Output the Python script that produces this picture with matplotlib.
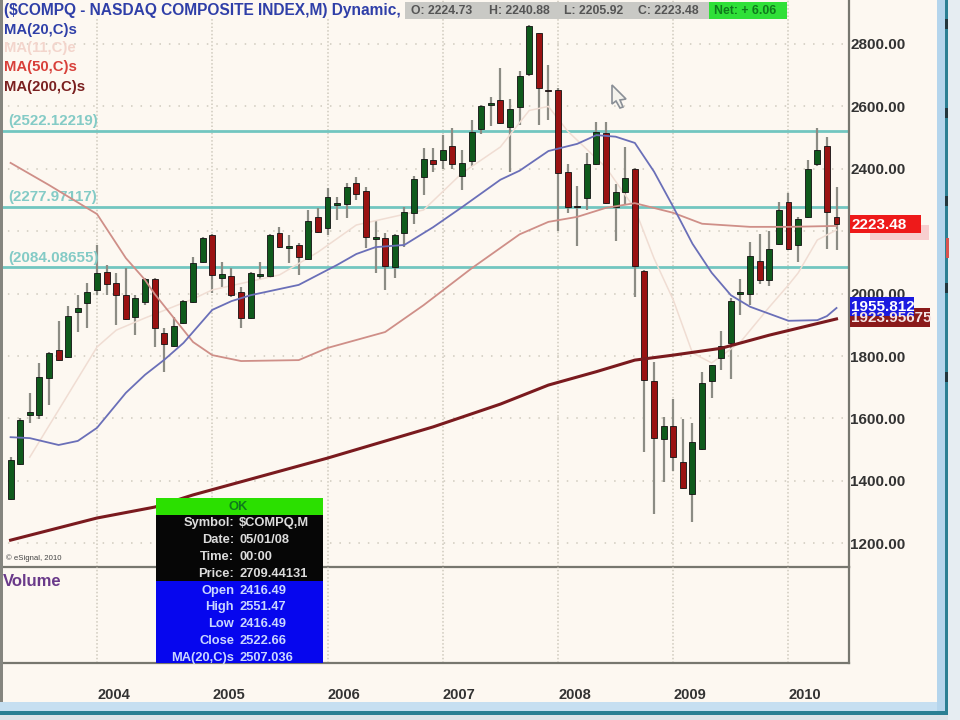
import matplotlib
matplotlib.use("Agg")
import matplotlib.pyplot as plt
from matplotlib.patches import Rectangle, Polygon

plt.rcParams['font.family'] = ['Liberation Sans', 'DejaVu Sans']

BG = '#fdf8f1'
GREEN = '#0f5a1c'
RED = '#9a1212'
WICK = '#8c8c84'
CYAN = '#72c6c0'

# monthly candles
opens = [1342, 1454, 1611, 1611, 1730, 1819, 1797, 1941, 1970, 2012, 2069, 2034, 1996, 1925, 1973, 2047, 1874, 1832,
         1906, 1973, 2101, 2188, 2050, 2056, 2005, 1922, 2057, 2056, 2194, 2146, 2156, 2111, 2246, 2210, 2283, 2287,
         2354, 2329, 2174, 2178, 2085, 2194, 2258, 2374, 2429, 2429, 2474, 2378, 2426, 2527, 2604, 2619, 2535, 2597,
         2703, 2834, 2653, 2654, 2391, 2282, 2306, 2417, 2514, 2277, 2325, 2401, 2073, 1719, 1535, 1575, 1462, 1358,
         1503, 1719, 1794, 1841, 1998, 2000, 2106, 2043, 2160, 2293, 2156, 2246, 2414, 2474, 2246]
highs = [1476, 1600, 1681, 1778, 1812, 1912, 1960, 1996, 2034, 2156, 2092, 2066, 2082, 1995, 2050, 2050, 1890, 1925,
         1980, 2117, 2181, 2190, 2101, 2082, 2021, 2070, 2101, 2192, 2213, 2188, 2162, 2268, 2274, 2338, 2310, 2354,
         2374, 2342, 2233, 2194, 2190, 2278, 2377, 2467, 2467, 2508, 2530, 2461, 2558, 2605, 2630, 2723, 2625, 2713,
         2860, 2836, 2733, 2658, 2417, 2344, 2450, 2550, 2550, 2350, 2469, 2403, 2075, 1782, 1604, 1661, 1598, 1585,
         1749, 1772, 1879, 1985, 2048, 2165, 2192, 2201, 2294, 2322, 2245, 2429, 2530, 2501, 2341]
lows = [1340, 1450, 1585, 1598, 1643, 1785, 1795, 1877, 1890, 1996, 1996, 1899, 1917, 1867, 1963, 1829, 1749, 1830,
        1903, 1970, 2098, 2002, 2021, 1990, 1890, 1920, 2044, 2050, 2145, 2098, 2060, 2108, 2195, 2188, 2236, 2242,
        2300, 2146, 2066, 2012, 2050, 2149, 2223, 2316, 2391, 2398, 2398, 2331, 2408, 2511, 2536, 2543, 2391, 2540,
        2698, 2540, 2556, 2201, 2259, 2154, 2268, 2413, 2287, 2170, 2287, 1990, 1493, 1295, 1397, 1431, 1374, 1267,
        1498, 1666, 1756, 1727, 1932, 1965, 2031, 2025, 2156, 2141, 2100, 2242, 2408, 2143, 2140]
closes = [1467, 1595, 1621, 1733, 1810, 1787, 1928, 1954, 2005, 2066, 2031, 1996, 1919, 1986, 2047, 1890, 1838, 1896,
          1976, 2098, 2178, 2060, 2063, 1996, 1922, 2066, 2063, 2188, 2149, 2154, 2117, 2233, 2197, 2310, 2291, 2342,
          2319, 2181, 2182, 2089, 2188, 2262, 2367, 2431, 2416, 2461, 2416, 2419, 2518, 2601, 2611, 2546, 2593, 2697,
          2859, 2660, 2648, 2388, 2277, 2278, 2414, 2519, 2291, 2325, 2369, 2088, 1722, 1536, 1575, 1475, 1376, 1525,
          1715, 1772, 1832, 1977, 2006, 2121, 2043, 2144, 2268, 2144, 2238, 2398, 2461, 2262, 2223]

# moving averages, read at a handful of months
ma20_x = [0, 2, 5, 7, 9, 12, 14, 16, 18, 21, 23, 25, 30, 34, 36, 38, 41, 44, 47, 51, 53, 56, 59, 61, 63, 65, 67, 69,
          71, 73, 75, 77, 81, 84, 85, 86]
ma20_y = [1540, 1537, 1515, 1528, 1570, 1682, 1740, 1788, 1842, 1948, 1976, 1995, 2028, 2092, 2127, 2149, 2156, 2213,
          2277, 2365, 2394, 2457, 2480, 2508, 2503, 2483, 2391, 2278, 2160, 2067, 1995, 1958, 1913, 1915, 1928, 1954]
ma11_x = [2, 5, 9, 11, 14, 19, 21, 28, 32, 36, 43, 47, 51, 54, 56, 58, 62, 65, 67, 69, 71, 73, 76, 79, 81, 82, 84, 86]
ma11_y = [1476, 1627, 1829, 1883, 1922, 1983, 2012, 2060, 2133, 2220, 2268, 2386, 2470, 2587, 2600, 2521, 2404, 2272,
          2113, 1980, 1810, 1778, 1845, 1957, 2028, 2066, 2172, 2204]
ma50_x = [0, 4, 9, 12, 14, 15, 17, 19, 21, 24, 30, 33, 39, 43, 48, 53, 56, 59, 62, 65, 69, 72, 77, 81, 86]
ma50_y = [2419, 2348, 2255, 2114, 2044, 1999, 1922, 1845, 1803, 1784, 1787, 1826, 1877, 1963, 2081, 2190, 2230, 2246,
          2275, 2290, 2259, 2224, 2214, 2214, 2217]
ma200_x = [0, 9, 15, 19, 33, 44, 51, 56, 61, 65, 69, 74, 79, 86]
ma200_y = [1210, 1281, 1316, 1355, 1473, 1573, 1646, 1707, 1750, 1787, 1803, 1825, 1867, 1919]

levels = [2522.12219, 2277.97117, 2084.08655]
price_ticks = [1200, 1400, 1600, 1800, 2000, 2200, 2400, 2600, 2800]
price_labels = ['1200.00', '1400.00', '1600.00', '1800.00', '2000.00', '', '2400.00', '2600.00', '2800.00']
year_ticks = [9, 21, 33, 45, 57, 69, 81]
year_labels = ['2004', '2005', '2006', '2007', '2008', '2009', '2010']
legend_names = ['MA(20,C)s', 'MA(11,C)e', 'MA(50,C)s', 'MA(200,C)s']
legend_colors = ['#2f3fa8', '#f3d5cc', '#d8403a', '#7a2020']
tip_black = [('Symbol:', '$COMPQ,M'), ('Date:', '05/01/08'), ('Time:', '00:00'), ('Price:', '2709.44131')]
tip_blue = [('Open', '2416.49'), ('High', '2551.47'), ('Low', '2416.49'), ('Close', '2522.66'),
            ('MA(20,C)s', '2507.036')]

W, H = 960, 720
fig = plt.figure(figsize=(9.6, 7.2), dpi=100, facecolor=BG)


def px_axes(x0, y0, x1, y1, **kw):
    return fig.add_axes([x0 / W, 1 - y1 / H, (x1 - x0) / W, (y1 - y0) / H], **kw)


ax = px_axes(3, 0, 849, 567, facecolor=BG)
vol = px_axes(3, 567, 849, 663, facecolor='none')

xlim = (-0.79, 87.3)
ax.set_xlim(xlim)
ax.set_ylim(1124, 2941)
vol.set_xlim(xlim)
vol.set_ylim(0, 1)

# grid
ax.set_axisbelow(True)
ax.yaxis.grid(True, color='#cfcabd', lw=1.1, linestyle=(3, (1, 5.2)))
ax.xaxis.grid(True, color='#cfcabd', lw=1.1, linestyle=(0, (1, 1.4)))
vol.set_axisbelow(True)
vol.xaxis.grid(True, color='#cfcabd', lw=1.1, linestyle=(0, (1, 1.4)))

for lvl in levels:
    ax.axhline(lvl, color=CYAN, lw=2.0, zorder=1.5)
    ax.annotate(f'({lvl:.5f})', (0.006, lvl), xycoords=('axes fraction', 'data'), xytext=(0, 2),
                textcoords='offset points', va='bottom', color='#84cbc6', fontsize=10.9, fontweight='bold')

# candles
for i in range(len(opens)):
    ax.vlines(i, lows[i], highs[i], color=WICK, lw=1.6, zorder=2)
    up = closes[i] >= opens[i]
    bottom = min(opens[i], closes[i])
    height = abs(closes[i] - opens[i])
    ax.bar(i, height, bottom=bottom, width=0.62, color=GREEN if up else RED,
           edgecolor='#111111', lw=0.6, zorder=3)

ax.plot(ma11_x, ma11_y, color='#f0ddd3', lw=1.1, zorder=2.5)
ax.plot(ma50_x, ma50_y, color='#cf8f88', lw=1.3, zorder=3.5)
ax.plot(ma20_x, ma20_y, color='#6a6fb8', lw=1.3, zorder=3.5)
ax.plot(ma200_x, ma200_y, color='#7a1a1e', lw=2.2, zorder=3.5)

ax.yaxis.tick_right()
ax.set_yticks(price_ticks, price_labels, color='#333333', fontsize=11, fontweight='bold')
ax.tick_params(axis='y', length=0, pad=1)
ax.set_xticks(year_ticks)
ax.tick_params(axis='x', length=0, labelbottom=False)
vol.set_yticks([])
vol.set_xticks(year_ticks, year_labels, color='#333333', fontsize=10.5, fontweight='bold', ha='left')
vol.tick_params(axis='x', length=0, pad=18)

for a in (ax, vol):
    for side in ('top', 'left'):
        a.spines[side].set_visible(False)
    for side in ('right', 'bottom'):
        a.spines[side].set_color('#77776f')
        a.spines[side].set_linewidth(1.6)

# window parts, tooltip and value flags on top, in pixels
top = fig.add_axes([0, 0, 1, 1], zorder=10)
top.set_xlim(0, W)
top.set_ylim(H, 0)
top.axis('off')


def box(x0, y0, x1, y1, color, **kw):
    top.add_patch(Rectangle((x0, y0), x1 - x0, y1 - y0, facecolor=color, edgecolor='none', **kw))


box(3, 0, 405, 17, BG)
box(0, 0, 3, 702, '#85857f')
box(0, 702, 948, 711, '#c6dff1')
box(0, 711, 948, 715, '#2b7f93')
box(0, 715, 960, 720, '#dde3e8')
box(937, 0, 945, 711, '#b5d5ec')
box(945, 0, 948, 715, '#2b7f93')
box(948, 0, 960, 720, '#e6edf2')
box(946, 238, 949, 258, '#d9534f')
for y in [24, 113, 201, 288, 377]:
    box(945, y - 5, 948, y + 5, '#22363d')

# header
top.text(4, 10, '($COMPQ - NASDAQ COMPOSITE INDEX,M) Dynamic,', color='#2f3fa8', fontsize=11.2,
         fontweight='bold', va='center')
box(405, 2, 709, 19, '#c9c9c5')
box(709, 2, 787, 19, '#2fe038')
for x, s in [(411, 'O: 2224.73'), (489, 'H: 2240.88'), (564, 'L: 2205.92'), (638, 'C: 2223.48')]:
    top.text(x, 11, s, color='#555555', fontsize=8.8, fontweight='bold', va='center')
top.text(714, 11, 'Net: + 6.06', color='#0f7a1c', fontsize=8.8, fontweight='bold', va='center')

for name, color, y in zip(legend_names, legend_colors, [30, 48, 67, 87]):
    top.text(4, y, name, color=color, fontsize=10.7, fontweight='bold', va='center')

top.text(6, 558, '\u00a9 eSignal, 2010', color='#444444', fontsize=5.6, va='center')
top.text(3, 581, 'Volume', color='#6a3a8a', fontsize=12, fontweight='bold', va='center')

# cursor
top.add_patch(Polygon([(612, 85), (612, 104), (616, 101), (620, 108), (623, 107), (620, 100), (626, 99)],
                      closed=True, facecolor='#f4f2ec', edgecolor='#8a8f96', lw=1.2))

# value flags
box(850, 308, 930, 327, '#8a1a1a')
top.text(851, 318, '1923.95675', color='#f3e4e4', fontsize=11, fontweight='bold', va='center')
box(850, 297, 914, 316, '#1a1ae0')
top.text(851, 307, '1955.812', color='white', fontsize=11, fontweight='bold', va='center')
box(870, 225, 929, 240, '#f8cfcf')
box(850, 215, 921, 233, '#ee1a1a')
top.text(851, 225, '2223.48', color='white', fontsize=11, fontweight='bold', va='center')

# tooltip
box(156, 498, 323, 515, '#2be000')
box(156, 515, 323, 581, '#060606')
box(156, 581, 323, 663, '#0606ee')
top.text(238, 506.5, 'OK', color='#0f7a1c', fontsize=9.3, fontweight='bold', ha='center', va='center')
for (k, v), y in zip(tip_black, [523, 540, 557, 574]):
    top.text(234, y, k, color='#dcdcdc', fontsize=9.3, fontweight='bold', ha='right', va='center')
    top.text(239, y, v, color='#dcdcdc', fontsize=9.3, fontweight='bold', va='center')
for (k, v), y in zip(tip_blue, [591, 607, 624, 641, 658]):
    top.text(234, y, k, color='#c9d6ff', fontsize=9.3, fontweight='bold', ha='right', va='center')
    top.text(239, y, v, color='#c9d6ff', fontsize=9.3, fontweight='bold', va='center')

fig.savefig('out.png', dpi=100, facecolor=BG)
